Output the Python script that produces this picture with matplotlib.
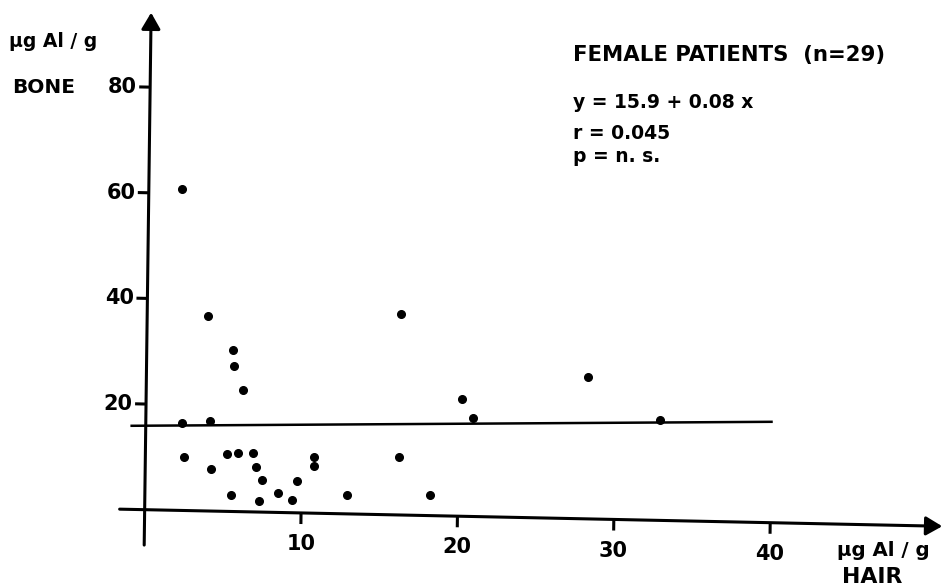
import numpy as np
import matplotlib
matplotlib.use("Agg")
import matplotlib.pyplot as plt
from matplotlib.transforms import Affine2D

plt.rcParams['font.family'] = ['DejaVu Sans']

# Al in hair (x) vs Al in bone (y), female patients
hair = [2.1, 3.9, 5.5, 5.6, 6.2, 2.3, 4.1, 2.5, 4.2, 5.2, 5.9, 6.9, 7.1, 7.5, 5.5,
        7.3, 8.5, 9.4, 9.7, 10.8, 10.8, 12.9, 16.2, 16.2, 18.2, 20.2, 20.9, 28.2, 32.9]
bone = [60.8, 36.9, 30.5, 27.5, 23.0, 16.5, 17.1, 10.1, 7.9, 10.9, 11.1, 11.2, 8.5, 6.1, 3.1,
        2.0, 3.6, 2.4, 6.0, 10.7, 8.9, 3.5, 38.1, 11.0, 3.9, 22.2, 18.7, 26.9, 19.0]

intercept = 15.9
slope = 0.08
fit_range = [-0.9, 40]
xticks = [10, 20, 30, 40]
yticks = [20, 40, 60, 80]

fig = plt.figure(figsize=(9.43, 5.87), dpi=100)
ax = fig.add_axes([0, 0, 1, 1])
ax.axis('off')
ax.set_xlim(-9.25, 51.05)
ax.set_ylim(-14.64, 96.5)

# the scanned figure is slightly skewed: x axis sinks to the right, y axis leans right
x0, y0 = 144.6, 587 - 509.7
skew = Affine2D(np.array([[1, 0.013, -0.013 * y0],
                          [-0.0208, 1, 0.0208 * x0],
                          [0, 0, 1]]))
tr = ax.transData + skew

arrow = dict(arrowstyle='-|>,head_length=0.55,head_width=0.32', color='k', lw=2.2,
             shrinkA=0, shrinkB=0, mutation_scale=18)
ax.annotate('', xy=(51.0, 0), xytext=(-1.6, 0), xycoords=tr, textcoords=tr, arrowprops=arrow)
ax.annotate('', xy=(0, 94.1), xytext=(0, -6.7), xycoords=tr, textcoords=tr, arrowprops=arrow)

for v in yticks:
    ax.plot([-0.7, 0], [v, v], color='k', lw=2.2, solid_capstyle='butt', transform=tr)
    ax.text(-0.85, v, str(v), transform=tr, ha='right', va='center',
            fontsize=15, fontweight='bold')
for v in xticks:
    ax.plot([v, v], [0, -2.1], color='k', lw=2.2, solid_capstyle='butt', transform=tr)
    ax.text(v, -4.0, str(v), transform=tr, ha='center', va='top',
            fontsize=15, fontweight='bold')

fx = np.array(fit_range)
ax.plot(fx, intercept + slope * fx, color='k', lw=1.8, transform=tr)
ax.plot(hair, bone, 'o', color='k', ms=5.5, transform=tr)

ax.set_xlim(-9.25, 51.05)
ax.set_ylim(-14.64, 96.5)

bold = dict(fontweight='bold', va='baseline', ha='left')
fig.text(0.0099, 0.9204, 'µg Al / g', fontsize=13.5, **bold)
fig.text(0.0124, 0.842, 'BONE', fontsize=14.5, **bold)
fig.text(0.8876, 0.0528, 'µg Al / g', fontsize=14.2, **bold)
fig.text(0.893, 0.006, 'HAIR', fontsize=15.8, **bold)

fig.text(0.6076, 0.8966, 'FEMALE PATIENTS  (n=29)', fontsize=15.3, **bold)
fig.text(0.6076, 0.816, 'y = 15.9 + 0.08 x', fontsize=13.5, **bold)
fig.text(0.6076, 0.7632, 'r = 0.045', fontsize=13.5, **bold)
fig.text(0.6076, 0.724, 'p = n. s.', fontsize=13.5, **bold)

fig.savefig('out.png', dpi=100)
